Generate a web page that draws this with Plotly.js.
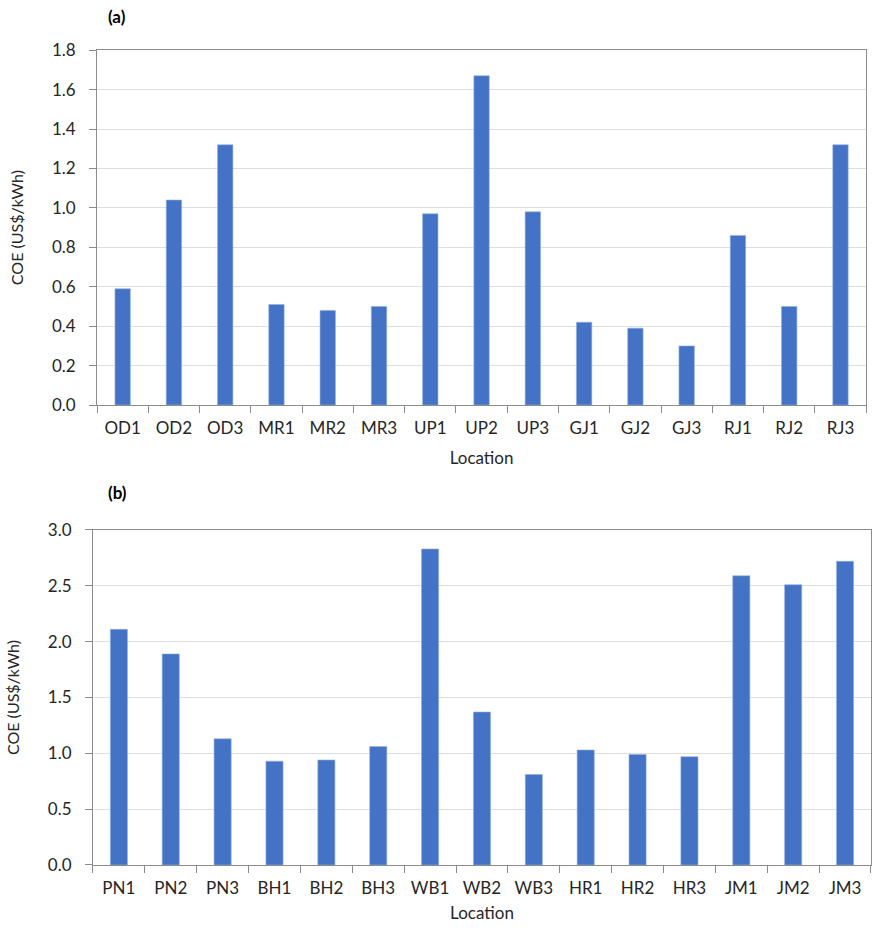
<!DOCTYPE html>
<html>
<head>
<meta charset="utf-8">
<script src="https://cdn.plot.ly/plotly-3.0.1.min.js"></script>
<style>
  body { margin: 0; background: #fff; }
  #chart { width: 882px; height: 929px; }
</style>
</head>
<body>
<div id="chart"></div>
<script>
// Panel (a) locations and cost of energy
const locationsA = ['OD1', 'OD2', 'OD3', 'MR1', 'MR2', 'MR3', 'UP1', 'UP2', 'UP3', 'GJ1', 'GJ2', 'GJ3', 'RJ1', 'RJ2', 'RJ3'];
const coeA = [0.59, 1.04, 1.32, 0.51, 0.48, 0.50, 0.97, 1.67, 0.98, 0.42, 0.39, 0.30, 0.86, 0.50, 1.32];

// Panel (b) locations and cost of energy
const locationsB = ['PN1', 'PN2', 'PN3', 'BH1', 'BH2', 'BH3', 'WB1', 'WB2', 'WB3', 'HR1', 'HR2', 'HR3', 'JM1', 'JM2', 'JM3'];
const coeB = [2.11, 1.89, 1.13, 0.93, 0.94, 1.06, 2.83, 1.37, 0.81, 1.03, 0.99, 0.97, 2.59, 2.51, 2.72];

const ticksA = [0, 0.2, 0.4, 0.6, 0.8, 1.0, 1.2, 1.4, 1.6, 1.8];
const ticksB = [0, 0.5, 1.0, 1.5, 2.0, 2.5, 3.0];

const barColor = '#4472C4';
const font = {family: 'Lato, "Open Sans", sans-serif', size: 17, color: '#262626'};

let data = [
  {
    x: locationsA,
    y: coeA,
    type: 'bar',
    width: 0.3,
    marker: {color: barColor, line: {color: '#8fb0e6', width: 0.6}},
    xaxis: 'x',
    yaxis: 'y',
    hoverinfo: 'x+y'
  },
  {
    x: locationsB,
    y: coeB,
    type: 'bar',
    width: 0.33,
    marker: {color: barColor, line: {color: '#8fb0e6', width: 0.6}},
    xaxis: 'x2',
    yaxis: 'y2',
    hoverinfo: 'x+y'
  }
];

// shared axis look, Excel style
function xAxis(domain, anchor, standoff) {
  return {
    domain: domain,
    anchor: anchor,
    type: 'category',
    tickson: 'boundaries',
    ticks: 'outside',
    ticklen: 7,
    tickcolor: '#8c8c8c',
    showline: true,
    linecolor: '#8c8c8c',
    linewidth: 1,
    mirror: true,
    showgrid: false,
    tickfont: {size: 17},
    ticklabelstandoff: 8,
    title: {text: 'Location', font: {size: 17}, standoff: standoff},
    automargin: false
  };
}

function yAxis(domain, anchor, range, ticks) {
  return {
    domain: domain,
    anchor: anchor,
    range: range,
    tickvals: ticks,
    tickformat: '.1f',
    ticks: 'outside',
    ticklen: 7,
    tickcolor: '#8c8c8c',
    showline: true,
    linecolor: '#8c8c8c',
    linewidth: 1,
    mirror: true,
    showgrid: true,
    gridcolor: '#dedede',
    gridwidth: 1,
    zeroline: false,
    tickfont: {size: 17},
    ticklabelstandoff: 10,
    title: {text: 'COE (US$/kWh)', font: {size: 16}, standoff: 24},
    automargin: false
  };
}

let layout = {
  width: 882,
  height: 929,
  margin: {l: 0, r: 0, t: 0, b: 0},
  paper_bgcolor: '#ffffff',
  plot_bgcolor: '#ffffff',
  font: font,
  showlegend: false,
  bargap: 0.7,
  xaxis: xAxis([0.110, 0.982], 'y', 14),
  yaxis: yAxis([0.564, 0.946], 'x', [0, 1.8], ticksA),
  xaxis2: xAxis([0.1054, 0.9875], 'y2', 9),
  yaxis2: yAxis([0.0689, 0.4295], 'x2', [0, 3.0], ticksB),
  annotations: [
    {text: '<b>(a)</b>', x: 117 / 882, y: 1 - 17 / 929, xref: 'paper', yref: 'paper',
     showarrow: false, xanchor: 'center', yanchor: 'middle', font: {size: 17, color: '#000'}},
    {text: '<b>(b)</b>', x: 117 / 882, y: 1 - 493 / 929, xref: 'paper', yref: 'paper',
     showarrow: false, xanchor: 'center', yanchor: 'middle', font: {size: 17, color: '#000'}}
  ]
};

Plotly.newPlot('chart', data, layout, {displayModeBar: false, staticPlot: true});
</script>
</body>
</html>
